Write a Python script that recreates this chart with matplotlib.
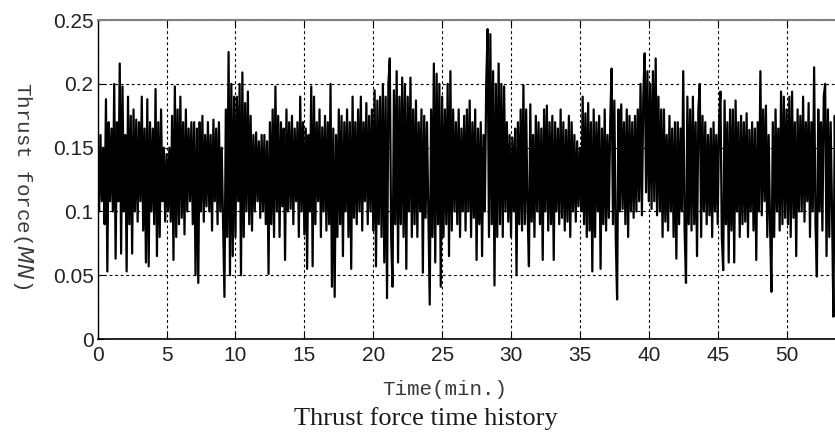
import numpy as np
import matplotlib
matplotlib.use('Agg')
import matplotlib.pyplot as plt

# sample step of the record (min) and the thrust force values (MN), read row by row, one row per minute
step = 0.1
force = [
    0.13, 0.10, 0.16, 0.108, 0.15, 0.09, 0.188, 0.053, 0.17, 0.108,
    0.165, 0.10, 0.20, 0.063, 0.17, 0.108, 0.216, 0.067, 0.198, 0.10,
    0.16, 0.053, 0.19, 0.09, 0.175, 0.067, 0.18, 0.10, 0.172, 0.092,
    0.17, 0.108, 0.19, 0.085, 0.165, 0.06, 0.188, 0.057, 0.17, 0.10,
    0.165, 0.09, 0.196, 0.065, 0.17, 0.08, 0.18, 0.108, 0.15, 0.092,
    0.145, 0.10, 0.15, 0.092, 0.175, 0.062, 0.198, 0.08, 0.18, 0.09,
    0.19, 0.095, 0.17, 0.082, 0.18, 0.10, 0.165, 0.108, 0.17, 0.09,
    0.17, 0.05, 0.165, 0.044, 0.17, 0.10, 0.175, 0.092, 0.16, 0.104,
    0.17, 0.10, 0.16, 0.085, 0.172, 0.108, 0.165, 0.09, 0.17, 0.10,
    0.15, 0.09, 0.033, 0.18, 0.08, 0.225, 0.05, 0.20, 0.065, 0.19,
    0.08, 0.19, 0.108, 0.20, 0.05, 0.209, 0.08, 0.185, 0.10, 0.194,
    0.09, 0.175, 0.085, 0.16, 0.10, 0.162, 0.108, 0.155, 0.095, 0.16,
    0.10, 0.16, 0.09, 0.155, 0.051, 0.17, 0.09, 0.18, 0.08, 0.198,
    0.10, 0.175, 0.08, 0.17, 0.104, 0.165, 0.062, 0.18, 0.10, 0.17,
    0.102, 0.175, 0.09, 0.165, 0.108, 0.17, 0.08, 0.19, 0.10, 0.17,
    0.082, 0.165, 0.055, 0.16, 0.10, 0.198, 0.057, 0.19, 0.09, 0.17,
    0.108, 0.18, 0.08, 0.166, 0.10, 0.175, 0.085, 0.17, 0.09, 0.20,
    0.041, 0.165, 0.033, 0.16, 0.08, 0.18, 0.09, 0.175, 0.065, 0.17,
    0.10, 0.18, 0.08, 0.17, 0.055, 0.19, 0.095, 0.17, 0.09, 0.18,
    0.10, 0.19, 0.085, 0.17, 0.108, 0.185, 0.09, 0.175, 0.10, 0.18,
    0.085, 0.195, 0.057, 0.187, 0.09, 0.19, 0.08, 0.20, 0.06, 0.19,
    0.032, 0.20, 0.22, 0.08, 0.041, 0.195, 0.09, 0.21, 0.06, 0.19,
    0.09, 0.205, 0.08, 0.20, 0.055, 0.19, 0.10, 0.205, 0.08, 0.18,
    0.09, 0.187, 0.08, 0.17, 0.10, 0.18, 0.052, 0.175, 0.095, 0.17,
    0.10, 0.027, 0.18, 0.08, 0.216, 0.06, 0.208, 0.09, 0.20, 0.041,
    0.19, 0.08, 0.18, 0.09, 0.20, 0.065, 0.21, 0.085, 0.18, 0.10,
    0.17, 0.09, 0.18, 0.08, 0.165, 0.10, 0.175, 0.085, 0.18, 0.10,
    0.187, 0.08, 0.17, 0.095, 0.18, 0.062, 0.165, 0.09, 0.17, 0.065,
    0.16, 0.10, 0.20, 0.243, 0.08, 0.239, 0.09, 0.21, 0.042, 0.20,
    0.08, 0.216, 0.09, 0.20, 0.08, 0.198, 0.10, 0.17, 0.092, 0.16,
    0.08, 0.158, 0.10, 0.165, 0.05, 0.17, 0.09, 0.18, 0.085, 0.199,
    0.09, 0.18, 0.10, 0.057, 0.184, 0.092, 0.16, 0.08, 0.175, 0.10,
    0.17, 0.09, 0.165, 0.062, 0.18, 0.10, 0.183, 0.085, 0.17, 0.09,
    0.175, 0.062, 0.17, 0.10, 0.165, 0.09, 0.18, 0.095, 0.17, 0.085,
    0.164, 0.092, 0.175, 0.08, 0.17, 0.10, 0.16, 0.092, 0.155, 0.104,
    0.15, 0.10, 0.19, 0.09, 0.177, 0.08, 0.185, 0.085, 0.17, 0.053,
    0.18, 0.08, 0.17, 0.10, 0.175, 0.055, 0.165, 0.09, 0.18, 0.085,
    0.16, 0.095, 0.17, 0.212, 0.09, 0.187, 0.08, 0.031, 0.18, 0.10,
    0.184, 0.102, 0.17, 0.09, 0.18, 0.08, 0.175, 0.10, 0.17, 0.095,
    0.175, 0.10, 0.18, 0.108, 0.20, 0.097, 0.19, 0.224, 0.115, 0.21,
    0.108, 0.20, 0.102, 0.21, 0.108, 0.22, 0.097, 0.19, 0.10, 0.18,
    0.08, 0.18, 0.092, 0.16, 0.085, 0.175, 0.10, 0.165, 0.08, 0.17,
    0.063, 0.17, 0.09, 0.165, 0.10, 0.21, 0.085, 0.044, 0.19, 0.09,
    0.18, 0.085, 0.19, 0.09, 0.17, 0.065, 0.18, 0.20, 0.08, 0.175,
    0.10, 0.17, 0.09, 0.16, 0.097, 0.165, 0.08, 0.17, 0.10, 0.16,
    0.09, 0.17, 0.194, 0.08, 0.054, 0.187, 0.09, 0.17, 0.06, 0.18,
    0.085, 0.18, 0.06, 0.187, 0.10, 0.17, 0.08, 0.175, 0.09, 0.17,
    0.092, 0.177, 0.08, 0.164, 0.10, 0.17, 0.085, 0.165, 0.062, 0.17,
    0.10, 0.21, 0.097, 0.18, 0.108, 0.183, 0.08, 0.16, 0.09, 0.037,
    0.17, 0.08, 0.18, 0.10, 0.165, 0.085, 0.194, 0.09, 0.19, 0.095,
    0.18, 0.09, 0.19, 0.08, 0.194, 0.095, 0.17, 0.065, 0.18, 0.10,
    0.175, 0.10, 0.19, 0.092, 0.17, 0.108, 0.185, 0.08, 0.17, 0.10,
    0.213, 0.09, 0.049, 0.18, 0.10, 0.17, 0.085, 0.19, 0.20, 0.065,
    0.18, 0.08, 0.17, 0.10, 0.0175, 0.175, 0.09, 0.16, 0.10, 0.17,
]
time = np.arange(len(force)) * step

x_ticks = [0, 5, 10, 15, 20, 25, 30, 35, 40, 45, 50]
y_ticks = [0, 0.05, 0.1, 0.15, 0.2, 0.25]
y_tick_labels = ['0', '0.05', '0.1', '0.15', '0.2', '0.25']

plt.rcParams['mathtext.fontset'] = 'custom'
plt.rcParams['mathtext.it'] = 'DejaVu Sans:italic'

fig = plt.figure(figsize=(8.35, 4.38), dpi=100)
# axes runs past the right edge of the picture, as in the original screenshot
ax = fig.add_axes([0.117, 0.226, 0.990, 0.728])

ax.plot(time, force, color='black', linewidth=1.6)

ax.set_xlim(0, 60)
ax.set_ylim(0, 0.25)
ax.set_xticks(x_ticks)
ax.set_yticks(y_ticks)
ax.set_yticklabels(y_tick_labels)

ax.set_axisbelow(True)
ax.grid(True, color='black', linestyle=(0, (2.5, 2.5)), linewidth=0.8)

ax.tick_params(axis='both', direction='in', length=4, top=True,
               labelsize=15, labelcolor='#222222', labelfontfamily='Liberation Sans')
ax.tick_params(axis='x', pad=5)
ax.tick_params(axis='y', pad=3)

ax.spines['top'].set_color('#808080')
ax.spines['top'].set_linewidth(1.5)
ax.spines['left'].set_linewidth(1.0)
ax.spines['bottom'].set_linewidth(1.2)

fig.text(0.0275, 0.5765, 'Thrust force($\\mathit{MN}$)', rotation=-90,
         ha='center', va='center', fontsize=15, family='Liberation Mono', color='#3a3a3a')
fig.text(0.533, 0.1096, 'Time(min.)', ha='center', va='center',
         fontsize=15, family='Liberation Mono', color='#3a3a3a')
fig.text(0.510, 0.0434, 'Thrust force time history', ha='center', va='center',
         fontsize=19, family='Liberation Serif', color='#1a1a1a')

fig.savefig('out.png', dpi=100)
